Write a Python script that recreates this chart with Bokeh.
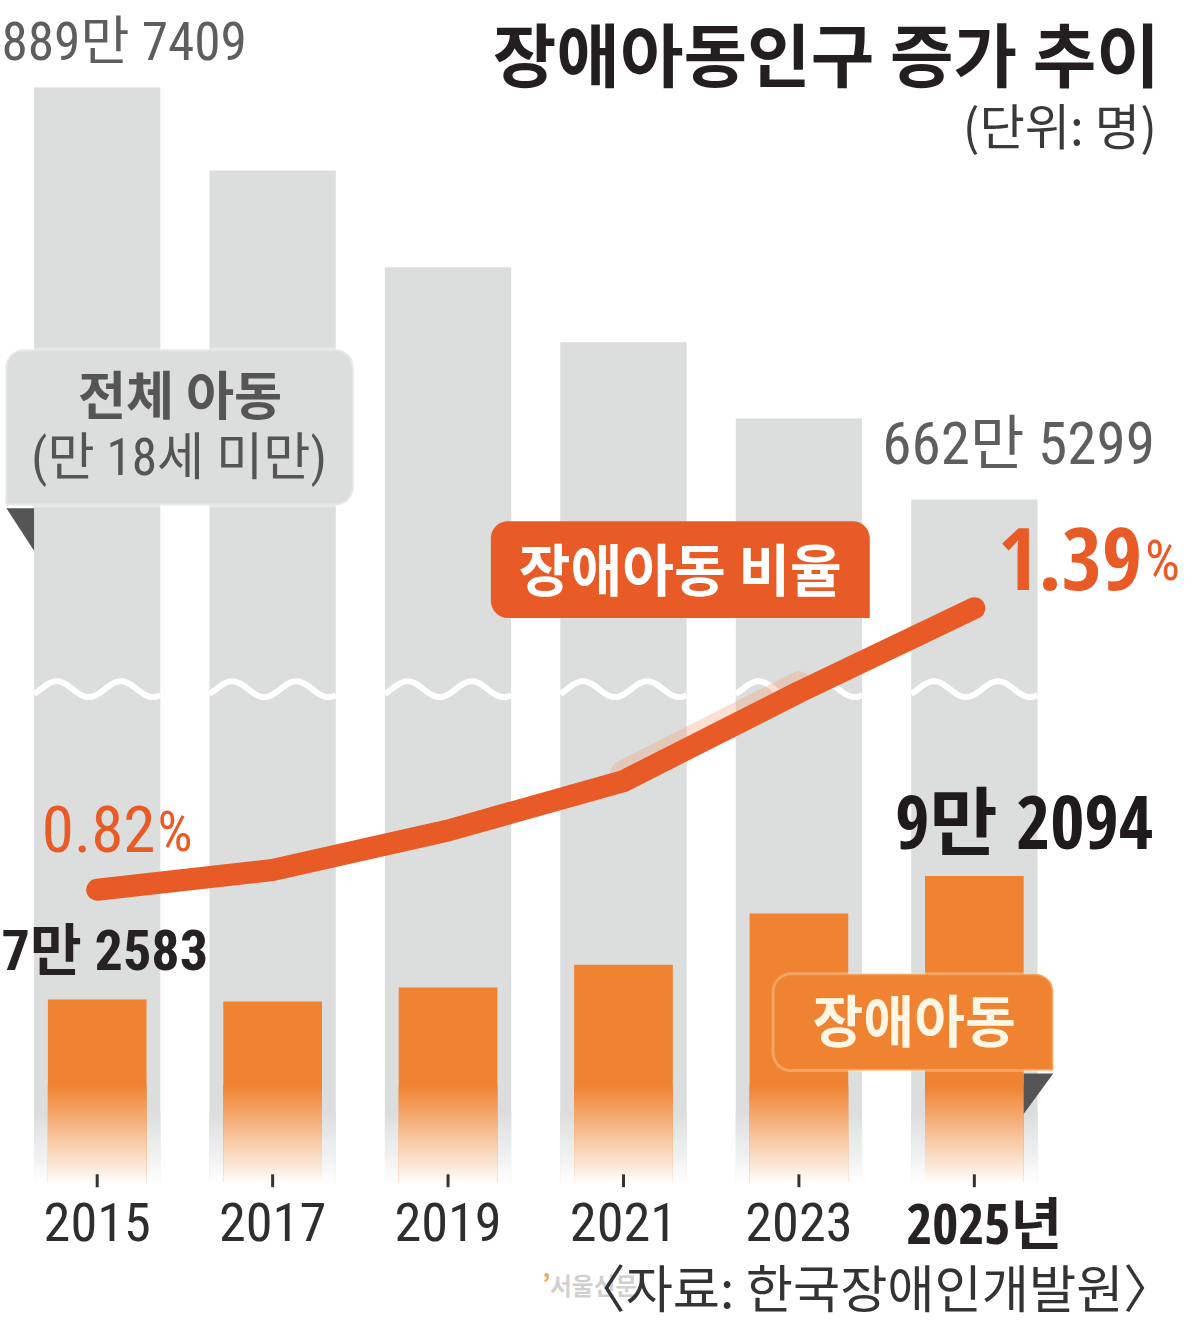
import numpy as np
from bokeh.plotting import figure
from bokeh.models import Range1d, BoxAnnotation, Label, ColumnDataSource
from bokeh.embed import file_html
from bokeh.resources import INLINE
from bokeh.transform import dodge

# ---------------- data ----------------
YEARS = [2015, 2017, 2019, 2021, 2023, 2025]
YEAR_LABELS = ["2015", "2017", "2019", "2021", "2023", "2025년"]
TOTAL = [8897409, 8440000, 7906000, 7492000, 7072000, 6625299]      # 전체 아동 (명)
DISABLED = [72583, 72270, 74460, 78050, 86160, 92094]                # 장애아동 (명)
RATIO = [0.82, 0.86, 0.94, 1.04, 1.22, 1.39]                         # 장애아동 비율 (%)

TITLE = "장애아동인구 증가 추이"
UNIT = "(단위: 명)"
SOURCE = "〈자료: 한국장애인개발원〉"
TOTAL_NAME = "전체 아동"
TOTAL_SUB = "(만 18세 미만)"
RATIO_NAME = "장애아동 비율"
DIS_NAME = "장애아동"
WATERMARK = "서울신문"


def man(v):
    return f"{v // 10000}만 {v % 10000:04d}"


# ---------------- layout / style ----------------
W, H = 1184, 1326            # figure size in pixels
RW, RH = 1200, 1342          # layout units
F = W / RW                   # font scale
PXY = 88.9                   # layout units per year
X0 = 2015 - 98 / PXY
X1 = X0 + RW / PXY
BASE_Y = 1196                # bar baseline

GRAY = "#DCDDDD"
ORANGE = "#EF8331"
RED = "#E85A26"
DARK = "#262122"
MID = "#5E5E5E"

RC = "'Roboto Condensed', 'Noto Sans CJK KR'"
OSC = "'Open Sans Condensed', 'Noto Sans CJK KR'"
KR = "'Noto Sans CJK KR'"

TOT_RANGE = Range1d(2_064_700, 9_376_900)
DIS_RANGE = Range1d(20_920, 230_390)
RAT_RANGE = Range1d(-0.064, 2.62)


def value_at(rng, y):
    return rng.end - y * (rng.end - rng.start) / RH


p = figure(width=W, height=H, x_range=Range1d(X0, X1), y_range=Range1d(RH, 0),
           output_backend="svg", toolbar_location=None,
           x_axis_type=None, y_axis_type=None, min_border=0,
           outline_line_color=None, background_fill_color="white",
           border_fill_color="white")
p.extra_x_ranges = {"px": Range1d(0, RW)}
p.extra_y_ranges = {"tot": TOT_RANGE, "dis": DIS_RANGE, "rat": RAT_RANGE}

GW = 128 / PXY
OW = 100 / PXY

# gray bars (전체 아동)
p.vbar(x=YEARS, top=TOTAL, bottom=value_at(TOT_RANGE, BASE_Y), width=GW,
       y_range_name="tot", fill_color=GRAY, line_color=None)


def hex_rgb(h):
    h = h.lstrip("#")
    return tuple(int(h[i:i + 2], 16) for i in (0, 2, 4))


def fade(xc, width, y0, y1, color, n, gamma=1.0):
    rgb = hex_rgb(color)
    L, R, T, B, C = [], [], [], [], []
    for x in xc:
        for i in range(n):
            ya = y0 + (y1 - y0) * i / n
            yb = y0 + (y1 - y0) * (i + 1) / n + 0.7
            t = ((i + 0.5) / n) ** gamma
            c = tuple(int(round(ch + (255 - ch) * t)) for ch in rgb)
            L.append(x - width / 2); R.append(x + width / 2)
            T.append(ya); B.append(yb)
            C.append("#%02x%02x%02x" % c)
    p.quad(left=L, right=R, top=T, bottom=B, fill_color=C, line_color=None)


fade(YEARS, GW, 1125, BASE_Y + 2, GRAY, 36)

# orange bars (장애아동)
p.vbar(x=YEARS, top=DISABLED, bottom=value_at(DIS_RANGE, BASE_Y), width=OW,
       y_range_name="dis", fill_color=ORANGE, line_color=None)
fade(YEARS, OW, 1098, BASE_Y + 2, ORANGE, 50)

# wavy break marks
wx, wy = [], []
for yr in YEARS:
    xs = np.linspace(yr - GW / 2, yr + GW / 2, 90)
    px = (xs - (yr - GW / 2)) * PXY
    wx.append(list(xs))
    wy.append(list(697 - 8 * np.cos(2 * np.pi * (px - 23) / 65)))
p.multi_line(wx, wy, line_color="white", line_width=6)

# ratio line
src = ColumnDataSource(dict(x=YEARS, r=RATIO))
halo = ColumnDataSource(dict(x=YEARS[3:5], r=RATIO[3:5]))
p.line("x", dodge("r", 0.016), source=halo, y_range_name="rat", line_width=26,
       line_color="#F4A27C", line_alpha=0.35, line_cap="round")
p.line("x", "r", source=src, y_range_name="rat", line_width=22, line_color=RED,
       line_cap="round", line_join="round")

# ticks
p.segment(x0=YEARS, y0=1188, x1=YEARS, y1=1201, line_width=3, line_color="#333333")

# callout boxes
p.add_layout(BoxAnnotation(left=5, right=358, top=353, bottom=511, x_range_name="px",
                           fill_color=GRAY, fill_alpha=1, line_color="white", line_width=4,
                           border_radius=(18, 18, 18, 0), level="guide"))
p.add_layout(BoxAnnotation(left=497, right=881, top=527, bottom=625, x_range_name="px",
                           fill_color=RED, fill_alpha=1, line_color=None,
                           border_radius=(17, 17, 0, 17), level="guide"))
p.add_layout(BoxAnnotation(left=783, right=1067, top=985, bottom=1083, x_range_name="px",
                           fill_color=ORANGE, fill_alpha=1, line_color="#FFF1D8", line_width=3,
                           border_radius=(18, 18, 0, 18), level="guide"))
p.patches(xs=[[6, 34, 34], [1037, 1067, 1037]], ys=[[514, 514, 557], [1086, 1086, 1127]],
          x_range_name="px", fill_color="#555555", line_color=None)


def lab(x, y, text, size, color, bold=False, align="left", font=RC, alpha=1.0, xr="px"):
    kw = dict(x_range_name=xr) if xr else {}
    p.add_layout(Label(x=x, y=y, text=text, text_font=font,
                       text_font_size=f"{size * F:.1f}px", text_color=color, text_alpha=alpha,
                       text_font_style="bold" if bold else "normal",
                       text_align=align, text_baseline="middle", **kw))


# year labels (positioned on the year scale)
for yr, t in zip(YEARS[:-1], YEAR_LABELS[:-1]):
    lab(yr, 1236, t, 55, "#2E2E2E", align="center", xr=None)
lab(YEARS[-1] + 10 / PXY, 1236, YEAR_LABELS[-1], 57, DARK, bold=True, align="center",
    font=OSC, xr=None)

lab(1175, 52, TITLE, 70, "#231F20", bold=True, align="right", font=KR)
lab(1172, 124, UNIT, 50, "#3A3A3A", align="right", font=KR)

lab(1, 42, man(TOTAL[0]), 54, MID)
lab(1170, 448, man(TOTAL[-1]), 60, MID, align="right")

lab(1157, 565, f"{RATIO[-1]:.2f}", 88, RED, bold=True, align="right", font=OSC)
lab(1160, 568, "%", 56, RED)
lab(157, 839, f"{RATIO[0]:.2f}", 66, RED, align="right")
lab(159, 842, "%", 56, RED)

lab(1, 962, man(DISABLED[0]), 57, DARK, bold=True)
lab(1168, 830, man(DISABLED[-1]), 75, "#1F1B1C", bold=True, align="right", font=OSC)

lab(182, 396, TOTAL_NAME, 53, "#555555", bold=True, align="center", font=KR)
lab(181, 463, TOTAL_SUB, 52, "#555555", align="center")
lab(689, 573, RATIO_NAME, 57, "white", bold=True, align="center", font=KR)
lab(926, 1030, DIS_NAME, 56, "#FFF6E3", bold=True, align="center", font=KR)

lab(549, 1296, "’", 26, "#F2A65A", bold=True, font=KR)
lab(557, 1300, WATERMARK, 24, "#C4C4C4", bold=True, font=KR, alpha=0.8)
lab(1190, 1301, SOURCE, 52, "#333333", align="right", font=KR)

open("out.html", "w").write(file_html(p, INLINE))
